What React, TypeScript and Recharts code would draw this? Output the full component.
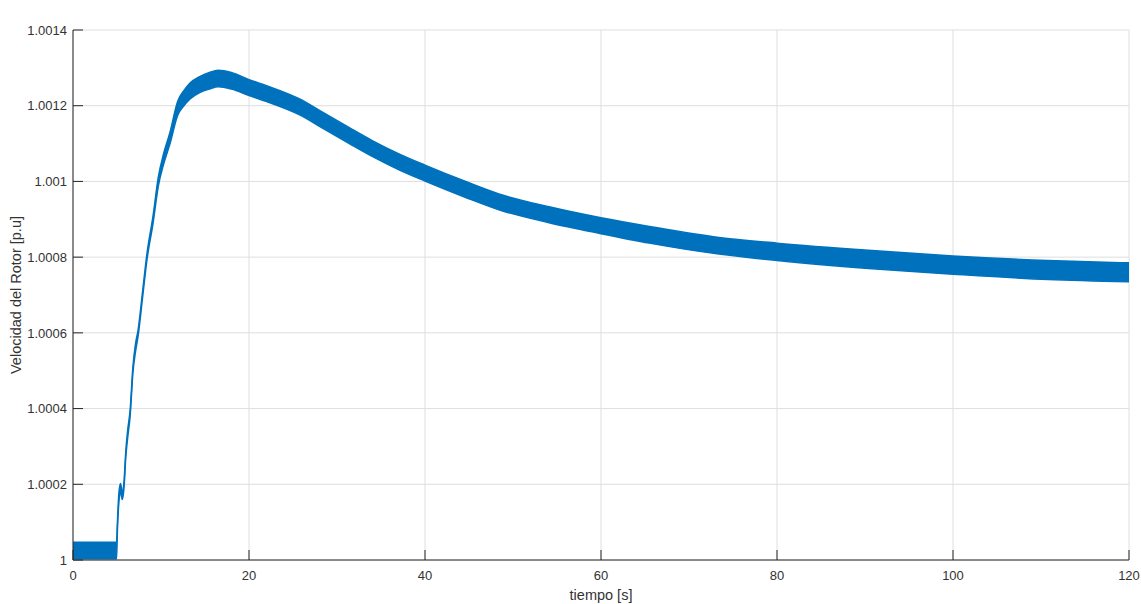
import { Area, CartesianGrid, ComposedChart, Label, XAxis, YAxis } from "recharts";

// tiempo [s] and the noisy rotor speed band (upper / lower edge)
const TIME = [
    0, 4.95, 5.05, 5.2, 5.4, 5.6, 5.8, 6.0, 6.2, 6.5, 6.8, 7.1, 7.4, 7.9, 8.4, 9.1, 9.7, 10.3, 11.0, 11.9,
    12.6, 13.3, 14.4, 15.5, 16.5, 18, 20, 22, 25.75, 28.5, 31.4, 34, 37.1, 40, 44.7, 48.4, 54.1, 60, 65.5,
    73.4, 80, 90.4, 100, 110.8, 120,
];
const SPEED_UPPER = [
    1.000047, 1.000047, 1.0001, 1.000172, 1.000202, 1.00018, 1.000208, 1.000288, 1.00034, 1.000398,
    1.000508, 1.00057, 1.000608, 1.000708, 1.000808, 1.00091, 1.001012, 1.001074, 1.001128, 1.001212,
    1.00124, 1.00126, 1.001277, 1.001288, 1.001294, 1.001288, 1.001269, 1.001253, 1.001218, 1.001181,
    1.001142, 1.001108, 1.001072, 1.001043, 1.000999, 1.000967, 1.000933, 1.000904, 1.000881, 1.000852,
    1.000837, 1.000818, 1.000803, 1.000791, 1.000785,
];
const SPEED_LOWER = [
    1.000003, 1.000003, 1.00008, 1.000148, 1.000178, 1.00016, 1.000192, 1.000272, 1.00032, 1.000382,
    1.000492, 1.00055, 1.000592, 1.000692, 1.000792, 1.00089, 1.000988, 1.001046, 1.001098, 1.001175,
    1.0012, 1.001218, 1.001235, 1.001244, 1.00125, 1.001244, 1.001227, 1.001211, 1.001176, 1.001139,
    1.0011, 1.001066, 1.00103, 1.001001, 1.000957, 1.000925, 1.000891, 1.000862, 1.000837, 1.000808,
    1.000791, 1.00077, 1.000755, 1.000741, 1.000735,
];

const X_TICKS = [0, 20, 40, 60, 80, 100, 120];
const Y_TICKS = [1, 1.0002, 1.0004, 1.0006, 1.0008, 1.001, 1.0012, 1.0014];

const FONT = '"Liberation Sans", Arial, Helvetica, sans-serif';
const AXIS_COLOR = "#262626";
const TEXT_COLOR = "#333333";
const LINE_COLOR = "#0072bd";
const TICK_LEN = 10;

const data = TIME.map((t, i) => ({ t, band: [SPEED_LOWER[i], SPEED_UPPER[i]] }));

const fmtY = (v: number) => v.toFixed(4).replace(/0+$/, "").replace(/\.$/, "");

function BottomTick({ x, y, payload }: any) {
    return (
        <g>
            <line x1={x} y1={y} x2={x} y2={y - TICK_LEN} stroke={AXIS_COLOR} />
            <text x={x} y={y + 20} textAnchor="middle" fontSize={13} fontFamily={FONT} fill={TEXT_COLOR}>
                {payload.value}
            </text>
        </g>
    );
}

function TopTick({ x, y }: any) {
    return <line x1={x} y1={y} x2={x} y2={y + TICK_LEN} stroke={AXIS_COLOR} />;
}

function LeftTick({ x, y, payload }: any) {
    return (
        <g>
            <line x1={x} y1={y} x2={x + TICK_LEN} y2={y} stroke={AXIS_COLOR} />
            <text x={x - 6} y={y} dy="0.36em" textAnchor="end" fontSize={13} fontFamily={FONT} fill={TEXT_COLOR}>
                {fmtY(payload.value)}
            </text>
        </g>
    );
}

function RightTick({ x, y }: any) {
    return <line x1={x} y1={y} x2={x - TICK_LEN} y2={y} stroke={AXIS_COLOR} />;
}

export default function App() {
    return (
        <div style={{ position: "absolute", left: 0, top: 0, background: "#fff" }}>
            <ComposedChart width={1141} height={604} data={data} margin={{ top: 30, right: 12, bottom: 0, left: 0 }}>
                <CartesianGrid stroke="#dedede" />
                <XAxis
                    dataKey="t"
                    type="number"
                    domain={[0, 120]}
                    ticks={X_TICKS}
                    height={44}
                    tickSize={0}
                    tickMargin={0}
                    tickLine={false}
                    axisLine={{ stroke: AXIS_COLOR }}
                    tick={<BottomTick />}
                    allowDataOverflow
                >
                    <Label
                        content={({ viewBox }: any) => (
                            <text
                                x={viewBox.x + viewBox.width / 2}
                                y={600}
                                textAnchor="middle"
                                fontSize={14.5}
                                fontFamily={FONT}
                                fill={TEXT_COLOR}
                            >
                                tiempo [s]
                            </text>
                        )}
                    />
                </XAxis>
                <XAxis
                    xAxisId="top"
                    orientation="top"
                    type="number"
                    domain={[0, 120]}
                    ticks={X_TICKS}
                    height={0}
                    tickSize={0}
                    tickMargin={0}
                    tickLine={false}
                    axisLine={{ stroke: AXIS_COLOR }}
                    tick={<TopTick />}
                >
                    <Label
                        content={({ viewBox }: any) => (
                            <text
                                x={viewBox.x + viewBox.width / 2}
                                y={23}
                                textAnchor="middle"
                                fontSize={14.5}
                                fontWeight="bold"
                                fontFamily={FONT}
                                fill="#111"
                            >
                                Velocidad del Rotor vs tiempo (Con Ruido)
                            </text>
                        )}
                    />
                </XAxis>
                <YAxis
                    type="number"
                    domain={[1, 1.0014]}
                    ticks={Y_TICKS}
                    width={73}
                    tickSize={0}
                    tickMargin={0}
                    tickLine={false}
                    axisLine={{ stroke: AXIS_COLOR }}
                    tick={<LeftTick />}
                    allowDataOverflow
                >
                    <Label
                        content={({ viewBox }: any) => {
                            const cx = 21;
                            const cy = viewBox.y + viewBox.height / 2;
                            return (
                                <text
                                    x={cx}
                                    y={cy}
                                    transform={`rotate(-90, ${cx}, ${cy})`}
                                    textAnchor="middle"
                                    fontSize={14.5}
                                    fontFamily={FONT}
                                    fill={TEXT_COLOR}
                                >
                                    Velocidad del Rotor [p.u]
                                </text>
                            );
                        }}
                    />
                </YAxis>
                <YAxis
                    yAxisId="right"
                    orientation="right"
                    type="number"
                    domain={[1, 1.0014]}
                    ticks={Y_TICKS}
                    width={0}
                    tickSize={0}
                    tickMargin={0}
                    tickLine={false}
                    axisLine={{ stroke: AXIS_COLOR }}
                    tick={<RightTick />}
                />
                <Area
                    type="monotone"
                    dataKey="band"
                    stroke={LINE_COLOR}
                    strokeWidth={1.5}
                    fill={LINE_COLOR}
                    fillOpacity={1}
                    isAnimationActive={false}
                    dot={false}
                    activeDot={false}
                />
            </ComposedChart>
        </div>
    );
}
